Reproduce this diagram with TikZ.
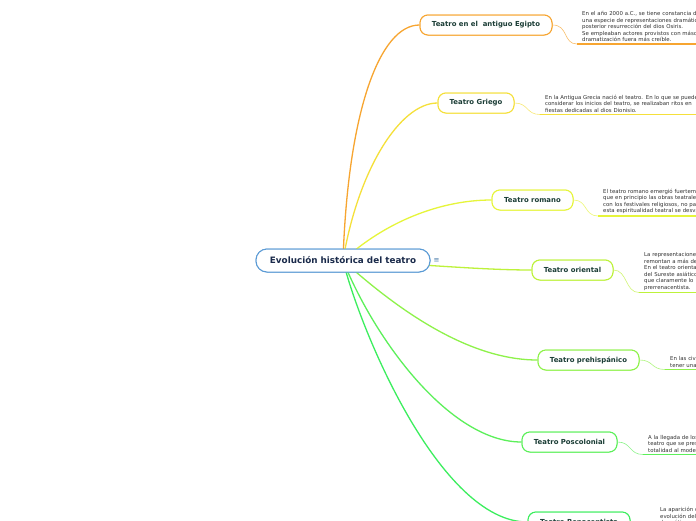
\documentclass[tikz,border=0pt]{standalone}
\usepackage{fontspec}
\setmainfont{DejaVu Sans}
\definecolor{cblue}{HTML}{5B9BD5}
\definecolor{navy}{HTML}{1A2A4A}
\definecolor{btext}{HTML}{1B3D36}
\definecolor{notegray}{HTML}{333333}
\definecolor{cEg}{HTML}{F7A530}
\definecolor{cGr}{HTML}{F5E03A}
\definecolor{cRo}{HTML}{E6F53A}
\definecolor{cOr}{HTML}{BDF23A}
\definecolor{cPr}{HTML}{8EF24A}
\definecolor{cPo}{HTML}{5CF05A}
\definecolor{cRe}{HTML}{3CEE5E}
\newcommand{\notefont}{\fontsize{5.4}{6.5}\selectfont}
\tikzset{
  central/.style={draw=cblue, line width=1pt, fill=white, rounded corners=11pt,
    minimum width=174pt, minimum height=23pt, text=navy,
    font=\fontsize{8.8}{10}\selectfont\bfseries},
  topic/.style={draw=#1, line width=1pt, fill=white, rounded corners=8pt,
    minimum height=20pt, text=btext, inner xsep=4pt,
    font=\fontsize{6.9}{8}\selectfont\bfseries},
  branch/.style={draw=#1, line width=1.3pt},
  twig/.style={draw=#1!70, line width=0.6pt},
  note/.style={anchor=south west, inner xsep=5pt, inner ysep=2pt,
    text width=260pt, align=left, font=\notefont, text=notegray},
  uline/.style={draw=#1, line width=1.3pt}
}
\begin{document}
\begin{tikzpicture}[x=1pt,y=-1pt]
\useasboundingbox (0,0) rectangle (696,520);
\clip (0,0) rectangle (696,520);
\fill[white] (0,0) rectangle (696,520);

% central node
\node[central] (c) at (343,260.5) {Evolución histórica del teatro};
\node[text=cblue!80!black, font=\fontsize{7}{7}\selectfont, inner sep=0pt] (menu) at (436.5,261) {≡};

% topic nodes
\path
  node[topic=cEg, minimum width=132pt] (eg) at (486,25) {Teatro en el\ \ antiguo Egipto}
  node[topic=cGr, minimum width=76pt] (gr) at (476,103) {Teatro Griego}
  node[topic=cRo, minimum width=81pt] (ro) at (532.5,200) {Teatro romano}
  node[topic=cOr, minimum width=81pt] (or) at (572.5,270) {Teatro oriental}
  node[topic=cPr, minimum width=101pt] (pr) at (588.5,360) {Teatro prehispánico}
  node[topic=cPo, minimum width=95pt] (po) at (569.5,442) {Teatro Poscolonial}
  node[topic=cRe, minimum width=102pt] (re) at (579,522) {Teatro Renacentista};

% notes
\node[note] (egn) at (577,44) {En el año 2000 a.C., se tiene constancia de\\una especie de representaciones dramáticas sobre la\\posterior resurrección del dios Osiris.\\Se empleaban actores provistos con máscaras para\\dramatización fuera más creíble.};
\node[note] (grn) at (540,114.5) {En la Antigua Grecia nació el teatro. En lo que se puede\\considerar los inicios del teatro, se realizaban ritos en\\fiestas dedicadas al dios Dionisio.};
\node[note] (ron) at (598,216) {El teatro romano emergió fuertemente\\que en principio las obras teatrales\\con los festivales religiosos, no para\\esta espiritualidad teatral se desvaneció};
\node[note] (orn) at (639,292.5) {La representaciones\\remontan a más de\\En el teatro oriental\\del Sureste asiático\\que claramente lo\\prerrenacentista.};
\node[note] (prn) at (665,369.5) {En las civilizaciones\\tener una};
\node[note] (pon) at (643,454.5) {A la llegada de los\\teatro que se presentaba\\totalidad al modelo};
\node[note] (ren) at (655,527) {La aparición del\\evolución del teatro\\dramática};

% branches from the central topic
\path[branch=cEg] (c.center) .. controls (348,110) and (380,25) .. (eg.west);
\path[branch=cGr] (c.center) .. controls (358,170) and (400,103) .. (gr.west);
\path[branch=cRo] (c.center) .. controls (385,222) and (440,200) .. (ro.west);
\path[branch=cOr] (c.center) .. controls (420,264) and (480,270) .. (or.west);
\path[branch=cPr] (c.center) .. controls (400,312) and (470,360) .. (pr.west);
\path[branch=cPo] (c.center) .. controls (375,340) and (450,442) .. (po.west);
\path[branch=cRe] (c.center) .. controls (360,330) and (440,522) .. (re.west);

% twigs to notes
\path[twig=cEg] (eg.east) .. controls +(16,0) and +(-14,0) .. (egn.south west);
\path[twig=cGr] (gr.east) .. controls +(14,0) and +(-14,0) .. (grn.south west);
\path[twig=cRo] (ro.east) .. controls +(14,0) and +(-14,0) .. (ron.south west);
\path[twig=cOr] (or.east) .. controls +(14,0) and +(-14,0) .. (orn.south west);
\path[twig=cPr] (pr.east) .. controls +(14,0) and +(-14,0) .. (prn.south west);
\path[twig=cPo] (po.east) .. controls +(14,0) and +(-14,0) .. (pon.south west);
\path[twig=cRe] (re.east) .. controls +(14,0) and +(-14,0) .. (ren.south west);

% underlines
\path[uline=cEg] (egn.south west) -- (egn.south east);
\path[uline=cGr] (grn.south west) -- (grn.south east);
\path[uline=cRo] (ron.south west) -- (ron.south east);
\path[uline=cOr] (orn.south west) -- (orn.south east);
\path[uline=cPr] (prn.south west) -- (prn.south east);
\path[uline=cPo] (pon.south west) -- (pon.south east);
\path[uline=cRe] (ren.south west) -- (ren.south east);

% redraw nodes on top of branches
\node[central] at (c.center) {Evolución histórica del teatro};
\node[topic=cEg, minimum width=132pt] at (eg.center) {Teatro en el\ \ antiguo Egipto};
\node[topic=cGr, minimum width=76pt] at (gr.center) {Teatro Griego};
\node[topic=cRo, minimum width=81pt] at (ro.center) {Teatro romano};
\node[topic=cOr, minimum width=81pt] at (or.center) {Teatro oriental};
\node[topic=cPr, minimum width=101pt] at (pr.center) {Teatro prehispánico};
\node[topic=cPo, minimum width=95pt] at (po.center) {Teatro Poscolonial};
\node[topic=cRe, minimum width=102pt] at (re.center) {Teatro Renacentista};
\end{tikzpicture}
\end{document}
